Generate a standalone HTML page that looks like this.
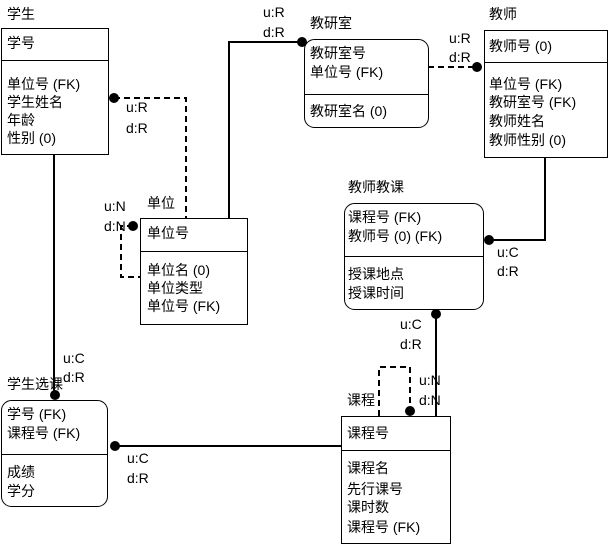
<!DOCTYPE html>
<html><head><meta charset="utf-8"><style>
html,body{margin:0;padding:0;background:#fff;}
svg{display:block;}
text{font-family:"Liberation Sans","WenQuanYi Zen Hei","Noto Sans CJK SC",sans-serif;font-size:14px;fill:#000;}
</style></head><body>
<svg width="608" height="544" viewBox="0 0 608 544" xmlns="http://www.w3.org/2000/svg">
<g fill="none" stroke="#000" stroke-width="2">
<line x1="54" y1="154" x2="54" y2="395"/>
<line x1="115" y1="446" x2="341" y2="446"/>
<polyline points="229,218 229,42 302,42"/>
<polyline points="545,157 545,240 489,240"/>
<line x1="436" y1="314" x2="436" y2="416"/>
</g>
<g fill="none" stroke="#000" stroke-width="2" stroke-dasharray="6,4">
<polyline points="114,98 186,98 186,218"/>
<polyline points="133,226 121,226 121,277 140,277"/>
<line x1="428" y1="67" x2="477" y2="67"/>
<polyline points="379,416 379,367 410,367 410,411"/>
</g>
<g fill="#000">
<circle cx="55" cy="395" r="5"/><circle cx="114" cy="98" r="5"/><circle cx="133" cy="226" r="5"/>
<circle cx="302" cy="42" r="5"/><circle cx="477" cy="67" r="5"/><circle cx="489" cy="240" r="5"/>
<circle cx="436" cy="314" r="5"/><circle cx="410" cy="411" r="5"/><circle cx="115" cy="446" r="5"/>
</g>
<g fill="#fff" stroke="#000" stroke-width="1">
<rect x="1.5" y="28.5" width="107" height="126"/>
<rect x="140.5" y="218.5" width="107" height="106"/>
<rect x="304.5" y="39.5" width="124" height="88" rx="10"/>
<rect x="484.5" y="30.5" width="123" height="127"/>
<rect x="344.5" y="203.5" width="139" height="106" rx="10"/>
<rect x="1.5" y="400.5" width="106" height="106" rx="10"/>
<rect x="341.5" y="416.5" width="109" height="127"/>
<line x1="1" y1="60.5" x2="108" y2="60.5"/>
<line x1="140" y1="251.5" x2="247" y2="251.5"/>
<line x1="304" y1="94.5" x2="428" y2="94.5"/>
<line x1="484" y1="62.5" x2="607" y2="62.5"/>
<line x1="344" y1="256.5" x2="483" y2="256.5"/>
<line x1="1" y1="454.5" x2="107" y2="454.5"/>
<line x1="341" y1="450.5" x2="450" y2="450.5"/>
</g>
<text x="7" y="19">学生</text>
<text x="7" y="48">学号</text>
<text x="7" y="89">单位号 (FK)</text><text x="7" y="107">学生姓名</text><text x="7" y="125">年龄</text><text x="7" y="143">性别 (0)</text>
<text x="147" y="208">单位</text>
<text x="147" y="238">单位号</text>
<text x="147" y="275">单位名 (0)</text><text x="147" y="293">单位类型</text><text x="147" y="311">单位号 (FK)</text>
<text x="310" y="28">教研室</text>
<text x="310" y="58">教研室号</text><text x="310" y="77">单位号 (FK)</text>
<text x="310" y="116">教研室名 (0)</text>
<text x="489" y="19">教师</text>
<text x="489" y="51">教师号 (0)</text>
<text x="489" y="89">单位号 (FK)</text><text x="489" y="107">教研室号 (FK)</text><text x="489" y="126">教师姓名</text><text x="489" y="145">教师性别 (0)</text>
<text x="348" y="192">教师教课</text>
<text x="348" y="222">课程号 (FK)</text><text x="348" y="241">教师号 (0) (FK)</text>
<text x="348" y="279">授课地点</text><text x="348" y="298">授课时间</text>
<text x="7" y="389">学生选课</text>
<text x="7" y="419">学号 (FK)</text><text x="7" y="438">课程号 (FK)</text>
<text x="7" y="477">成绩</text><text x="7" y="496">学分</text>
<text x="347" y="405">课程</text>
<text x="347" y="438">课程号</text>
<text x="347" y="473">课程名</text><text x="347" y="494">先行课号</text><text x="347" y="512">课时数</text><text x="347" y="532">课程号 (FK)</text>
<text x="126" y="112">u:R</text><text x="126" y="133">d:R</text>
<text x="104" y="211">u:N</text><text x="104" y="231">d:N</text>
<text x="263" y="17">u:R</text><text x="263" y="37">d:R</text>
<text x="449" y="43">u:R</text><text x="449" y="62">d:R</text>
<text x="497" y="257">u:C</text><text x="497" y="276">d:R</text>
<text x="400" y="329">u:C</text><text x="400" y="349">d:R</text>
<text x="419" y="385">u:N</text><text x="419" y="405">d:N</text>
<text x="63" y="363">u:C</text><text x="63" y="382">d:R</text>
<text x="127" y="463">u:C</text><text x="127" y="483">d:R</text>
</svg>
</body></html>
